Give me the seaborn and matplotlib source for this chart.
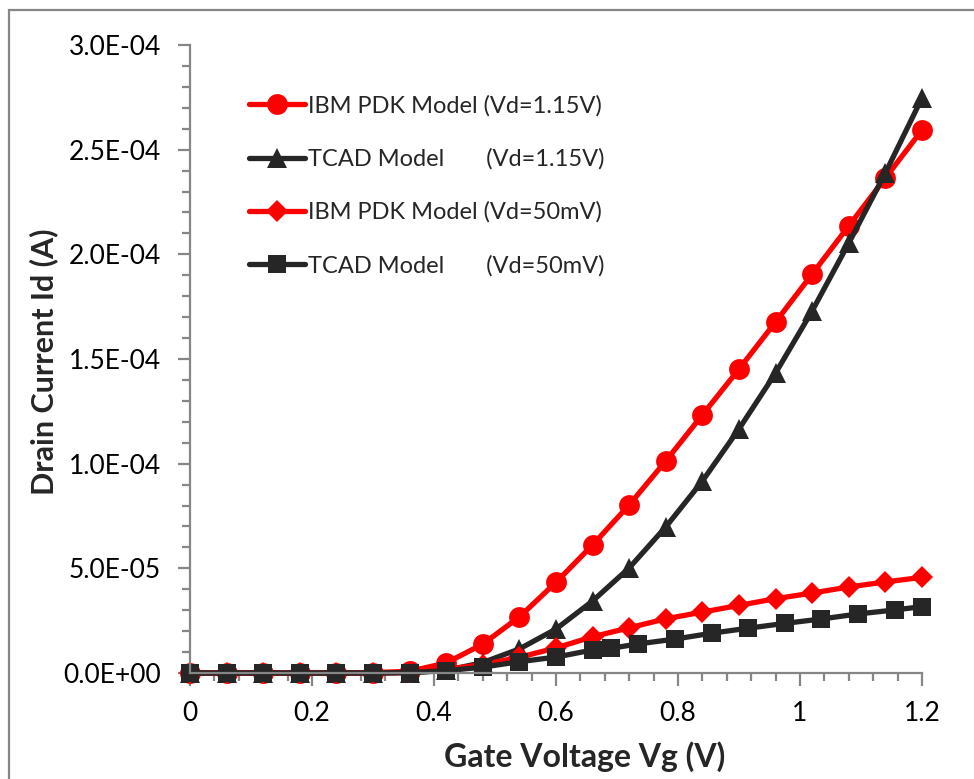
import matplotlib
matplotlib.use("Agg")
import matplotlib.pyplot as plt
import matplotlib.patches as mpatches
from matplotlib.ticker import FixedLocator, MultipleLocator
import seaborn as sns

# Gate voltage sweep (V)
vg = [0.0, 0.06, 0.12, 0.18, 0.24, 0.30, 0.36, 0.42, 0.48, 0.54, 0.60,
      0.66, 0.72, 0.78, 0.84, 0.90, 0.96, 1.02, 1.08, 1.14, 1.20]

# IBM PDK model, Vd = 1.15 V (A)
ibm_hi = [0, 0, 0, 0, 0, 0.2e-6, 0.8e-6, 4.8e-6, 1.38e-5, 2.68e-5, 4.33e-5,
          6.12e-5, 8.03e-5, 1.013e-4, 1.233e-4, 1.452e-4, 1.677e-4, 1.906e-4,
          2.136e-4, 2.365e-4, 2.594e-4]

# TCAD model, Vd = 1.15 V (A)
tcad_hi = [0, 0, 0, 0, 0, 0, 0.2e-6, 1.2e-6, 5.0e-6, 1.15e-5, 2.10e-5,
           3.44e-5, 5.02e-5, 6.98e-5, 9.17e-5, 1.166e-4, 1.433e-4, 1.73e-4,
           2.054e-4, 2.389e-4, 2.747e-4]

# IBM PDK model, Vd = 50 mV (A)
ibm_lo = [0, 0, 0, 0, 0, 0, 0.3e-6, 1.8e-6, 4.0e-6, 7.5e-6, 1.2e-5,
          1.73e-5, 2.16e-5, 2.59e-5, 2.91e-5, 3.23e-5, 3.55e-5, 3.82e-5,
          4.11e-5, 4.35e-5, 4.57e-5]

# TCAD model, Vd = 50 mV (A) -- sampled on its own voltage grid
vg_tcad_lo = [0.0, 0.06, 0.12, 0.18, 0.24, 0.30, 0.36, 0.42, 0.48, 0.54, 0.60,
              0.66, 0.69, 0.735, 0.795, 0.855, 0.915, 0.975, 1.035, 1.095,
              1.155, 1.20]
tcad_lo = [0, 0, 0, 0, 0, 0, 0.2e-6, 1.1e-6, 2.8e-6, 5.4e-6, 7.6e-6,
           1.10e-5, 1.18e-5, 1.39e-5, 1.62e-5, 1.90e-5, 2.14e-5, 2.37e-5,
           2.58e-5, 2.82e-5, 3.01e-5, 3.17e-5]

x_ticks = [0.0, 0.2, 0.4, 0.6, 0.8, 1.0, 1.2]
x_tick_labels = ["0", "0.2", "0.4", "0.6", "0.8", "1", "1.2"]
y_ticks = [0.0, 5e-5, 1e-4, 1.5e-4, 2e-4, 2.5e-4, 3e-4]
y_tick_labels = ["0.0E+00", "5.0E-05", "1.0E-04", "1.5E-04", "2.0E-04",
                 "2.5E-04", "3.0E-04"]

series_labels = ["IBM PDK Model (Vd=1.15V)",
                 "TCAD Model       (Vd=1.15V)",
                 "IBM PDK Model (Vd=50mV)",
                 "TCAD Model       (Vd=50mV)"]

RED = "#FF0000"
DARK = "#262626"
AXIS_GREY = "#868686"

sns.set_style("white")
plt.rcParams["font.family"] = ["Lato", "DejaVu Sans"]

fig = plt.figure(figsize=(9.74, 7.79), dpi=100)
ax = fig.add_axes([190 / 974, 106 / 779, 732 / 974, 628 / 779])

line_kw = dict(linewidth=3.8, markeredgewidth=0, clip_on=False, ax=ax)
sns.lineplot(x=vg, y=ibm_hi, color=RED, marker="o", markersize=15,
             label=series_labels[0], **line_kw)
sns.lineplot(x=vg, y=tcad_hi, color=DARK, marker="^", markersize=15,
             label=series_labels[1], **line_kw)
sns.lineplot(x=vg, y=ibm_lo, color=RED, marker="D", markersize=11,
             label=series_labels[2], **line_kw)
sns.lineplot(x=vg_tcad_lo, y=tcad_lo, color=DARK, marker="s", markersize=13,
             label=series_labels[3], **line_kw)

ax.set_xlim(0, 1.2)
ax.set_ylim(0, 3e-4)

ax.xaxis.set_major_locator(FixedLocator(x_ticks))
ax.set_xticklabels(x_tick_labels)
ax.xaxis.set_minor_locator(MultipleLocator(0.04))
ax.yaxis.set_major_locator(FixedLocator(y_ticks))
ax.set_yticklabels(y_tick_labels)
ax.yaxis.set_minor_locator(MultipleLocator(1e-5))

for side in ("top", "right"):
    ax.spines[side].set_visible(False)
for side in ("left", "bottom"):
    ax.spines[side].set_color(AXIS_GREY)
    ax.spines[side].set_linewidth(1.6)

ax.tick_params(which="both", direction="out", color=AXIS_GREY, width=1.6,
               labelsize=19, labelcolor="black", bottom=True, left=True)
ax.tick_params(axis="x", which="major", length=9, pad=11)
ax.tick_params(axis="x", which="minor", length=6)
ax.tick_params(axis="y", which="major", length=9, pad=12)
ax.tick_params(axis="y", which="minor", length=6)

ax.set_xlabel("Gate Voltage Vg (V)", fontsize=23, fontweight="bold")
ax.set_ylabel("Drain Current Id (A)", fontsize=22, fontweight="bold")
ax.xaxis.label.set_verticalalignment("center")
ax.yaxis.label.set_verticalalignment("center")
ax.xaxis.set_label_coords((585 - 190) / 732, (673 - 757) / 628)
ax.yaxis.set_label_coords((44 - 190) / 732, (673 - 362) / 628)

leg = ax.legend(loc="upper left", bbox_to_anchor=(0.08, 0.92), frameon=False,
                fontsize=17, handlelength=2.4, handletextpad=0.1,
                labelspacing=1.34, borderaxespad=0, borderpad=0)

# Chart-area frame
frame = mpatches.Rectangle((9 / 974, -0.2), 1.2, (779 - 10) / 779 + 0.2,
                           transform=fig.transFigure, fill=False,
                           edgecolor=AXIS_GREY, linewidth=1.6, clip_on=False)
fig.patches.append(frame)

fig.savefig("out.png", dpi=100)
